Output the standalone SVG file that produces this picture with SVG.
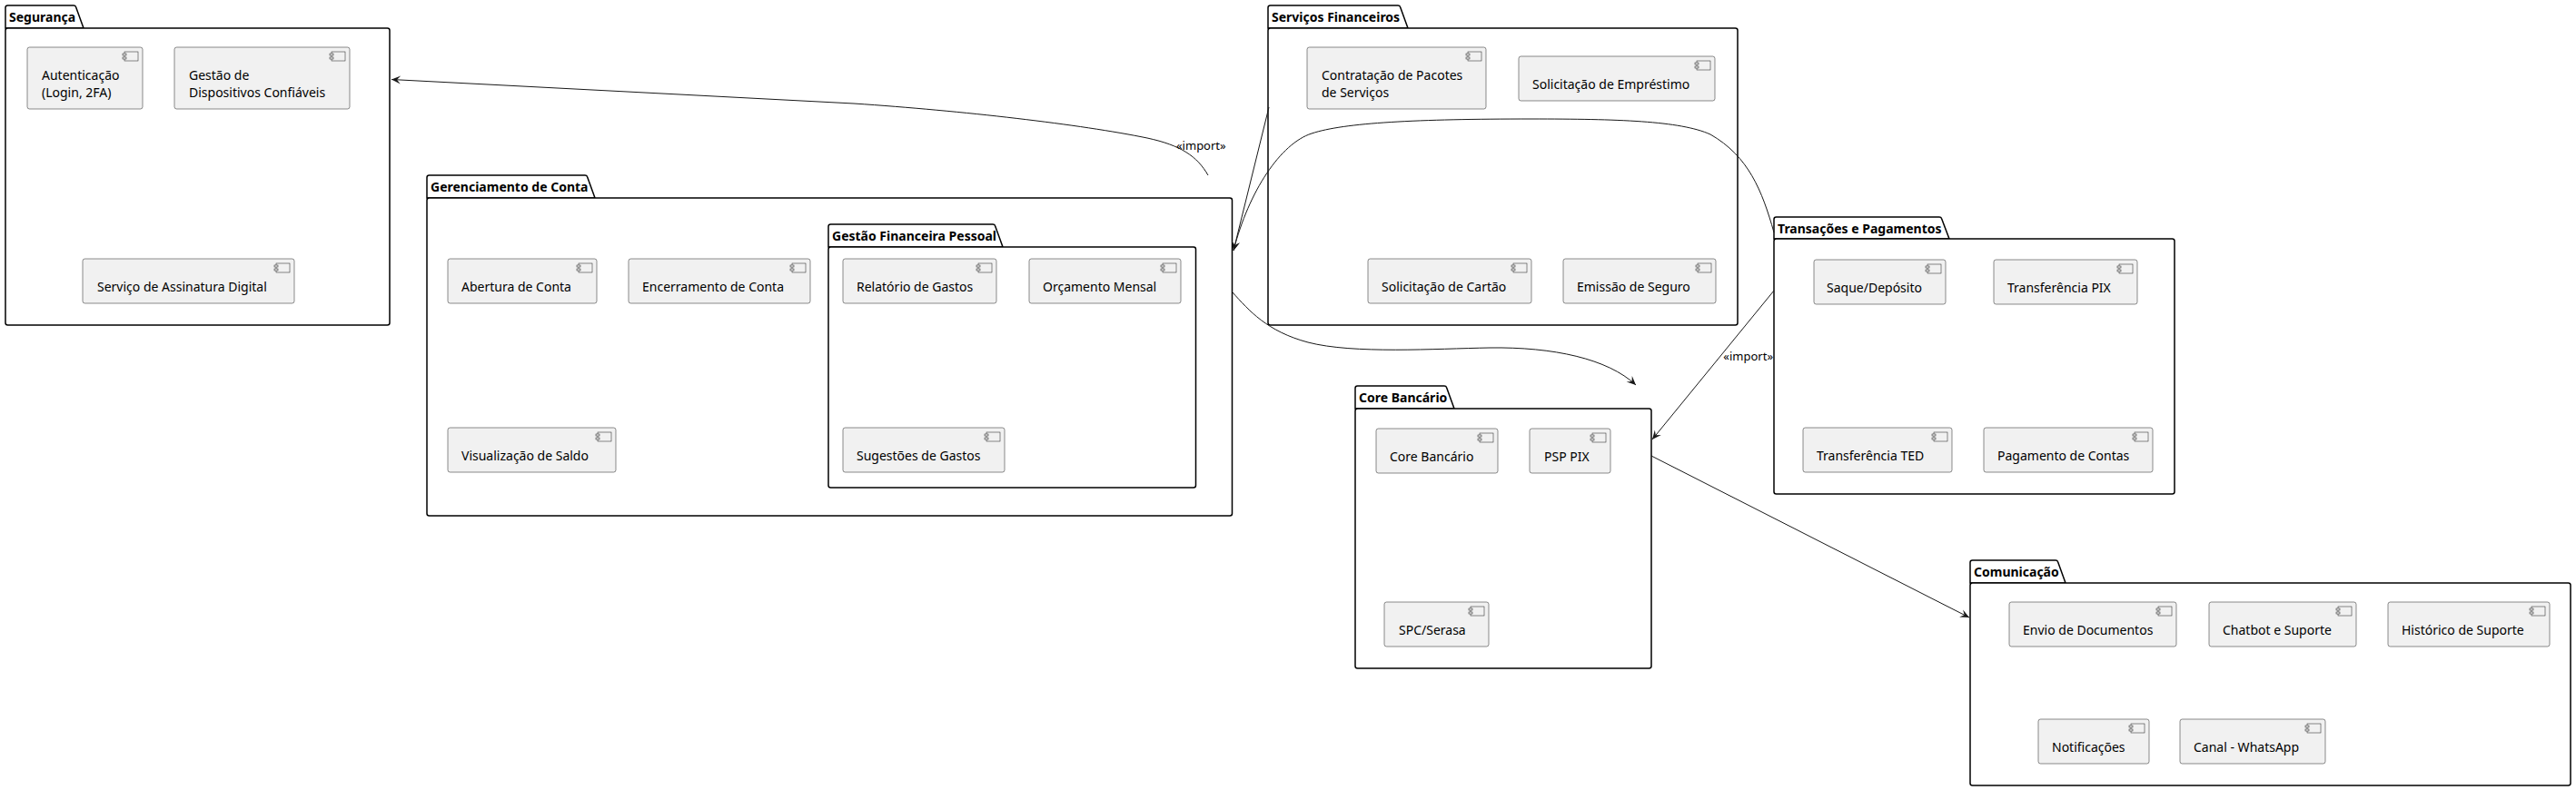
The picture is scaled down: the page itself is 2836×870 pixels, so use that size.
<svg xmlns="http://www.w3.org/2000/svg" width="2836" height="870" viewBox="0 0 2836 870">
<style>
.pkg{fill:#fff;stroke:#000;stroke-width:1.5}
.cmp{fill:#F1F1F1;stroke:#181818;stroke-width:0.5}
.t{font-family:'Noto Sans','DejaVu Sans',sans-serif;font-size:14px;fill:#000}
.pt{font-family:'Noto Sans','DejaVu Sans',sans-serif;font-size:14px;font-weight:bold;fill:#000}
.lbl{font-family:'Noto Sans','DejaVu Sans',sans-serif;font-size:13px;fill:#000}
.edge{fill:none;stroke:#181818;stroke-width:1}
.ic{fill:#F1F1F1;stroke:#181818;stroke-width:0.5}
</style>
<defs>
<g id="icon">
<rect class="ic" x="-20" y="5" width="15" height="10"/>
<rect class="ic" x="-22" y="7" width="4" height="2"/>
<rect class="ic" x="-22" y="11" width="4" height="2"/>
</g>
<marker id="ah" viewBox="-12 -6 14 12" refX="0" refY="0" markerWidth="14" markerHeight="12" markerUnits="userSpaceOnUse" orient="auto">
<path d="M0,0 L-10,-4.5 L-6,0 L-10,4.5 Z" fill="#181818"/>
</marker>
</defs>

<!-- Segurança -->
<g id="pkg-seguranca">
<path class="pkg" d="M6,31 L6,8.5 Q6,6 8.5,6 L81,6 Q83,6 83.5,7.5 L92,31 Z"/>
<rect class="pkg" x="6" y="31" width="423" height="327" rx="2.5"/>
<text class="pt" x="10" y="24">Segurança</text>
</g>
<g id="autenticacao">
<rect class="cmp" x="30" y="52" width="127" height="68" rx="2.5"/>
<use href="#icon" x="157" y="52"/>
<text class="t" x="46" y="88">Autenticação</text>
<text class="t" x="46" y="107">(Login, 2FA)</text>
</g>
<g id="gestao-dispositivos">
<rect class="cmp" x="192" y="52" width="193" height="68" rx="2.5"/>
<use href="#icon" x="385" y="52"/>
<text class="t" x="208" y="88">Gestão de</text>
<text class="t" x="208" y="107">Dispositivos Confiáveis</text>
</g>
<g id="assinatura-digital">
<rect class="cmp" x="91" y="285" width="233" height="49" rx="2.5"/>
<use href="#icon" x="324" y="285"/>
<text class="t" x="107" y="321">Serviço de Assinatura Digital</text>
</g>

<!-- Gerenciamento de Conta -->
<g id="pkg-gerenciamento">
<path class="pkg" d="M470,218 L470,195.5 Q470,193 472.5,193 L644,193 Q646,193 646.5,194.5 L655,218 Z"/>
<rect class="pkg" x="470" y="218" width="886.5" height="350" rx="2.5"/>
<text class="pt" x="474" y="211">Gerenciamento de Conta</text>
</g>
<g id="abertura-conta">
<rect class="cmp" x="493" y="285" width="164" height="49" rx="2.5"/>
<use href="#icon" x="657" y="285"/>
<text class="t" x="508" y="321">Abertura de Conta</text>
</g>
<g id="encerramento-conta">
<rect class="cmp" x="692" y="285" width="200" height="49" rx="2.5"/>
<use href="#icon" x="892" y="285"/>
<text class="t" x="707" y="321">Encerramento de Conta</text>
</g>
<g id="visualizacao-saldo">
<rect class="cmp" x="493" y="471" width="185" height="49" rx="2.5"/>
<use href="#icon" x="678" y="471"/>
<text class="t" x="508" y="507">Visualização de Saldo</text>
</g>

<!-- Gestão Financeira Pessoal -->
<g id="pkg-gestao-financeira">
<path class="pkg" d="M912,272 L912,249.5 Q912,247 914.5,247 L1093,247 Q1095,247 1095.5,248.5 L1104,272 Z"/>
<rect class="pkg" x="912" y="272" width="404.5" height="265" rx="2.5"/>
<text class="pt" x="916" y="265">Gestão Financeira Pessoal</text>
</g>
<g id="relatorio-gastos">
<rect class="cmp" x="928" y="285" width="169" height="49" rx="2.5"/>
<use href="#icon" x="1097" y="285"/>
<text class="t" x="943" y="321">Relatório de Gastos</text>
</g>
<g id="orcamento-mensal">
<rect class="cmp" x="1133" y="285" width="167" height="49" rx="2.5"/>
<use href="#icon" x="1300" y="285"/>
<text class="t" x="1148" y="321">Orçamento Mensal</text>
</g>
<g id="sugestoes-gastos">
<rect class="cmp" x="928" y="471" width="178" height="49" rx="2.5"/>
<use href="#icon" x="1106" y="471"/>
<text class="t" x="943" y="507">Sugestões de Gastos</text>
</g>

<!-- Serviços Financeiros -->
<g id="pkg-servicos">
<path class="pkg" d="M1396,31 L1396,8.5 Q1396,6 1398.5,6 L1539,6 Q1541,6 1541.5,7.5 L1550,31 Z"/>
<rect class="pkg" x="1396" y="31" width="517" height="327" rx="2.5"/>
<text class="pt" x="1400" y="24">Serviços Financeiros</text>
</g>
<g id="contratacao-pacotes">
<rect class="cmp" x="1439" y="52" width="197" height="68" rx="2.5"/>
<use href="#icon" x="1636" y="52"/>
<text class="t" x="1455" y="88">Contratação de Pacotes</text>
<text class="t" x="1455" y="107">de Serviços</text>
</g>
<g id="solicitacao-emprestimo">
<rect class="cmp" x="1672" y="62" width="216" height="49" rx="2.5"/>
<use href="#icon" x="1888" y="62"/>
<text class="t" x="1687" y="98">Solicitação de Empréstimo</text>
</g>
<g id="solicitacao-cartao">
<rect class="cmp" x="1506" y="285" width="180" height="49" rx="2.5"/>
<use href="#icon" x="1686" y="285"/>
<text class="t" x="1521" y="321">Solicitação de Cartão</text>
</g>
<g id="emissao-seguro">
<rect class="cmp" x="1721" y="285" width="168" height="49" rx="2.5"/>
<use href="#icon" x="1889" y="285"/>
<text class="t" x="1736" y="321">Emissão de Seguro</text>
</g>

<!-- Transações e Pagamentos -->
<g id="pkg-transacoes">
<path class="pkg" d="M1953,263 L1953,241.5 Q1953,239 1955.5,239 L2135,239 Q2137,239 2137.5,240.5 L2146,263 Z"/>
<rect class="pkg" x="1953" y="263" width="441" height="281" rx="2.5"/>
<text class="pt" x="1957" y="257">Transações e Pagamentos</text>
</g>
<g id="saque-deposito">
<rect class="cmp" x="1997" y="286" width="145" height="49" rx="2.5"/>
<use href="#icon" x="2142" y="286"/>
<text class="t" x="2011" y="322">Saque/Depósito</text>
</g>
<g id="transferencia-pix">
<rect class="cmp" x="2195" y="286" width="158" height="49" rx="2.5"/>
<use href="#icon" x="2353" y="286"/>
<text class="t" x="2210" y="322">Transferência PIX</text>
</g>
<g id="transferencia-ted">
<rect class="cmp" x="1985" y="471" width="164" height="49" rx="2.5"/>
<use href="#icon" x="2149" y="471"/>
<text class="t" x="2000" y="507">Transferência TED</text>
</g>
<g id="pagamento-contas">
<rect class="cmp" x="2184" y="471" width="186" height="49" rx="2.5"/>
<use href="#icon" x="2370" y="471"/>
<text class="t" x="2199" y="507">Pagamento de Contas</text>
</g>

<!-- Core Bancário -->
<g id="pkg-core">
<path class="pkg" d="M1492,450 L1492,427.5 Q1492,425 1494.5,425 L1590,425 Q1592,425 1592.5,426.5 L1601,450 Z"/>
<rect class="pkg" x="1492" y="450" width="326" height="286" rx="2.5"/>
<text class="pt" x="1496" y="443">Core Bancário</text>
</g>
<g id="core-bancario">
<rect class="cmp" x="1515" y="472" width="134" height="49" rx="2.5"/>
<use href="#icon" x="1649" y="472"/>
<text class="t" x="1530" y="508">Core Bancário</text>
</g>
<g id="psp-pix">
<rect class="cmp" x="1684" y="472" width="89" height="49" rx="2.5"/>
<use href="#icon" x="1773" y="472"/>
<text class="t" x="1700" y="508">PSP PIX</text>
</g>
<g id="spc-serasa">
<rect class="cmp" x="1524" y="663" width="115" height="49" rx="2.5"/>
<use href="#icon" x="1639" y="663"/>
<text class="t" x="1540" y="699">SPC/Serasa</text>
</g>

<!-- Comunicação -->
<g id="pkg-comunicacao">
<path class="pkg" d="M2169,642 L2169,619.5 Q2169,617 2171.5,617 L2263,617 Q2265,617 2265.5,618.5 L2274,642 Z"/>
<rect class="pkg" x="2169" y="642" width="661" height="223" rx="2.5"/>
<text class="pt" x="2173" y="635">Comunicação</text>
</g>
<g id="envio-documentos">
<rect class="cmp" x="2212" y="663" width="184" height="49" rx="2.5"/>
<use href="#icon" x="2396" y="663"/>
<text class="t" x="2227" y="699">Envio de Documentos</text>
</g>
<g id="chatbot-suporte">
<rect class="cmp" x="2432" y="663" width="162" height="49" rx="2.5"/>
<use href="#icon" x="2594" y="663"/>
<text class="t" x="2447" y="699">Chatbot e Suporte</text>
</g>
<g id="historico-suporte">
<rect class="cmp" x="2629" y="663" width="178" height="49" rx="2.5"/>
<use href="#icon" x="2807" y="663"/>
<text class="t" x="2644" y="699">Histórico de Suporte</text>
</g>
<g id="notificacoes">
<rect class="cmp" x="2244" y="792" width="122" height="49" rx="2.5"/>
<use href="#icon" x="2366" y="792"/>
<text class="t" x="2259" y="828">Notificações</text>
</g>
<g id="canal-whatsapp">
<rect class="cmp" x="2400" y="792" width="160" height="49" rx="2.5"/>
<use href="#icon" x="2560" y="792"/>
<text class="t" x="2415" y="828">Canal - WhatsApp</text>
</g>

<!-- Connectors -->
<g id="connectors">
<path class="edge" marker-end="url(#ah)" d="M1330,193 C1318,172 1300,160 1263,152 C1190,137 1060,122 940,114 L431,87.5"/>
<text class="lbl" x="1295" y="165">«import»</text>
<path class="edge" marker-end="url(#ah)" d="M1397,118 L1358,276"/>
<path class="edge" marker-end="url(#ah)" d="M1953,256 C1940,210 1925,172 1883,148 C1850,133 1780,131 1686,131 C1560,131 1480,135 1444,147 C1410,158 1375,210 1358,276"/>
<path class="edge" marker-end="url(#ah)" d="M1357,322 C1375,342 1395,365 1440,377 C1490,390 1580,384 1640,383 C1710,382 1770,395 1801,424"/>
<path class="edge" marker-end="url(#ah)" d="M1953,320 L1819,484"/>
<text class="lbl" x="1952" y="397" text-anchor="end">«import»</text>
<path class="edge" marker-end="url(#ah)" d="M1818,502 L2168,680"/>
</g>
</svg>
